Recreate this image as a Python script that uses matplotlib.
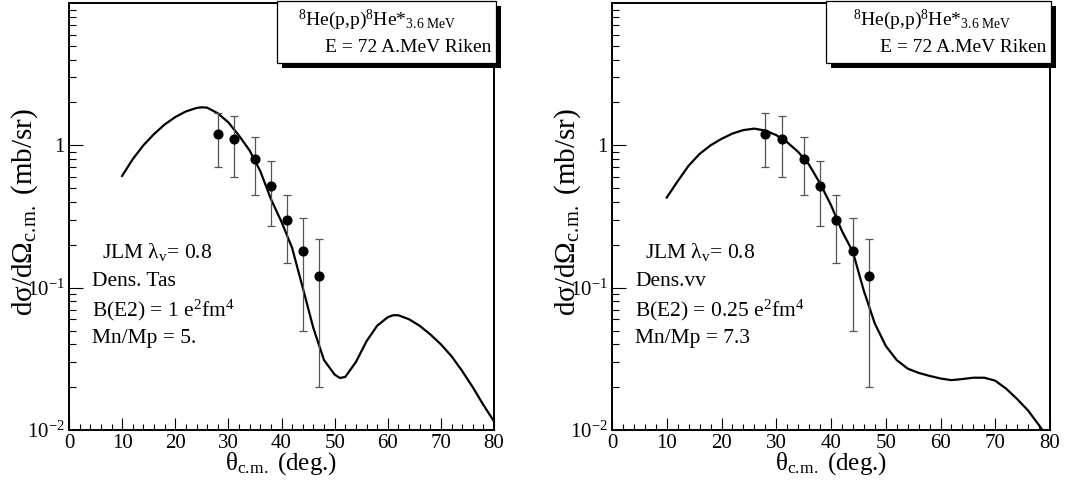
import matplotlib
matplotlib.use("Agg")
import matplotlib.pyplot as plt
from matplotlib.patches import Rectangle
from matplotlib.ticker import FixedLocator, NullFormatter, MultipleLocator, LogLocator

plt.rcParams['font.family'] = ['Liberation Serif', 'DejaVu Serif']
plt.rcParams['mathtext.fontset'] = 'custom'
plt.rcParams['mathtext.rm'] = 'Liberation Serif'
plt.rcParams['mathtext.it'] = 'Liberation Serif:italic'
plt.rcParams['mathtext.bf'] = 'Liberation Serif:bold'

# ---------------- data ----------------
data_theta = [28, 31, 35, 38, 41, 44, 47]
data_xs = [1.2, 1.1, 0.8, 0.52, 0.30, 0.18, 0.12]
data_err = [0.5, 0.5, 0.35, 0.25, 0.15, 0.13, 0.10]

left_theta = [10, 12, 14, 16, 18, 20, 22, 24, 25, 26, 28, 30, 32, 34, 36, 38, 40, 42,
              44, 46, 48, 50, 51, 52, 54, 56, 58, 60, 61, 62, 64, 66, 68, 70, 72, 74,
              76, 78, 80]
left_xs = [0.61, 0.80, 1.00, 1.20, 1.40, 1.58, 1.73, 1.83, 1.85, 1.84, 1.68, 1.45,
           1.17, 0.92, 0.66, 0.42, 0.29, 0.19, 0.10, 0.052, 0.031, 0.0245, 0.0232,
           0.0236, 0.030, 0.042, 0.054, 0.062, 0.064, 0.064, 0.060, 0.054, 0.047,
           0.040, 0.033, 0.026, 0.020, 0.015, 0.0115]

right_theta = [10, 12, 14, 16, 18, 20, 22, 24, 26, 28, 30, 32, 34, 36, 38, 40, 42, 44,
               46, 47, 48, 50, 52, 54, 56, 58, 60, 62, 64, 66, 68, 70, 72, 74, 76, 78,
               78.6]
right_xs = [0.43, 0.56, 0.72, 0.87, 1.00, 1.11, 1.21, 1.28, 1.31, 1.27, 1.18, 1.05,
            0.90, 0.73, 0.54, 0.38, 0.25, 0.178, 0.095, 0.073, 0.056, 0.039, 0.031,
            0.027, 0.0252, 0.0240, 0.0230, 0.0224, 0.0228, 0.0233, 0.0233, 0.0222,
            0.0195, 0.0165, 0.0137, 0.0108, 0.0100]

x_ticks = [0, 10, 20, 30, 40, 50, 60, 70, 80]
y_ticks = [0.01, 0.1, 1]
y_tick_labels = [r'10$^{\mathregular{-2}}$', r'10$^{\mathregular{-1}}$', '1']

title_line1 = r'$^{8}$He(p,p)$^{8}$He*$_{\mathregular{3.\!6\ MeV}}$'
title_line2 = 'E = 72 A.MeV Riken'
left_notes = [r'JLM λ$_{\mathregular{v}}$= 0.8', 'Dens. Tas',
              r'B(E2) = 1 e$^{\mathregular{2}}$fm$^{\mathregular{4}}$', 'Mn/Mp = 5.']
right_notes = [r'JLM λ$_{\mathregular{v}}$= 0.8', 'Dens.vv',
               r'B(E2) = 0.25 e$^{\mathregular{2}}$fm$^{\mathregular{4}}$', 'Mn/Mp = 7.3']
xlabel = r'θ$_{\mathregular{c.\!m.}}$ (deg.)'
ylabel = r'dσ/dΩ$_{\mathregular{c.\!m.}}$ (mb/sr)'

# ---------------- figure ----------------
W, H = 1068, 482
fig = plt.figure(figsize=(W / 100, H / 100), dpi=100)


def rect(l, t, r, b):
    return [l / W, 1 - b / H, (r - l) / W, (b - t) / H]


def fx(px):
    return px / W


def fy(py):
    return 1 - py / H


def panel(ax_px, theta, xs, notes, note_x, box_px, lab_x):
    l, t, r, b = ax_px
    ax = fig.add_axes(rect(l, t, r, b))
    ax.set_yscale('log')
    ax.set_xlim(0, 80)
    ax.set_ylim(0.01, 10)
    ax.plot(theta, xs, color='black', lw=1.6, solid_joinstyle='round', zorder=3)
    ax.errorbar(data_theta, data_xs, yerr=data_err, fmt='o', color='black',
                ms=6.3, ecolor='#555555', elinewidth=0.9, capsize=3.2,
                capthick=0.9, zorder=4)
    for s in ax.spines.values():
        s.set_linewidth(1.4)
    ax.xaxis.set_major_locator(FixedLocator(x_ticks))
    ax.xaxis.set_minor_locator(MultipleLocator(2))
    ax.set_xticklabels([str(v) for v in x_ticks])
    ax.yaxis.set_major_locator(FixedLocator(y_ticks))
    ax.set_yticklabels(y_tick_labels)
    ax.yaxis.set_minor_locator(LogLocator(base=10, subs=range(2, 10)))
    ax.yaxis.set_minor_formatter(NullFormatter())
    ax.tick_params(axis='both', which='both', direction='in', top=False, right=False,
                   labelsize=15, width=0.8)
    ax.tick_params(axis='x', which='major', length=8.5, pad=3)
    ax.tick_params(axis='x', which='minor', length=4.3)
    ax.tick_params(axis='y', which='major', length=10, pad=3)
    ax.tick_params(axis='y', which='minor', length=5)

    # notes
    ys = [252, 282, 310, 338]
    xs_off = [10, 0, 0, 0]
    for txt, yy, xo in zip(notes, ys, xs_off):
        fig.text(fx(note_x + xo), fy(yy), txt, fontsize=15.5, ha='left', va='center')

    # title box with shadow
    bl, bt, br, bb = box_px
    fig.patches.append(Rectangle((fx(bl + 5), fy(bb + 5)), (br - bl) / W, (bb - bt) / H,
                                 transform=fig.transFigure, facecolor='black',
                                 edgecolor='black', lw=0, zorder=5))
    fig.patches.append(Rectangle((fx(bl), fy(bb)), (br - bl) / W, (bb - bt) / H,
                                 transform=fig.transFigure, facecolor='white',
                                 edgecolor='black', lw=0.9, zorder=6))
    fig.text(fx(br - 198), fy(20), title_line1, fontsize=14, ha='left', va='center',
             zorder=7)
    fig.text(fx(br - 5), fy(48), title_line2, fontsize=14, ha='right', va='center',
             zorder=7)

    # axis labels
    fig.text(fx((l + r) / 2), fy(464), xlabel, fontsize=18, ha='center', va='center')
    fig.text(fx(lab_x), fy(212), ylabel, fontsize=21, ha='center', va='center',
             rotation=90)
    return ax


panel((69, 3, 494, 430), left_theta, left_xs, left_notes, 92, (277, 1, 496, 63), 25)
panel((612, 3, 1050, 430), right_theta, right_xs, right_notes, 635, (826, 1, 1051, 63), 568)

fig.savefig('out.png', dpi=100)
